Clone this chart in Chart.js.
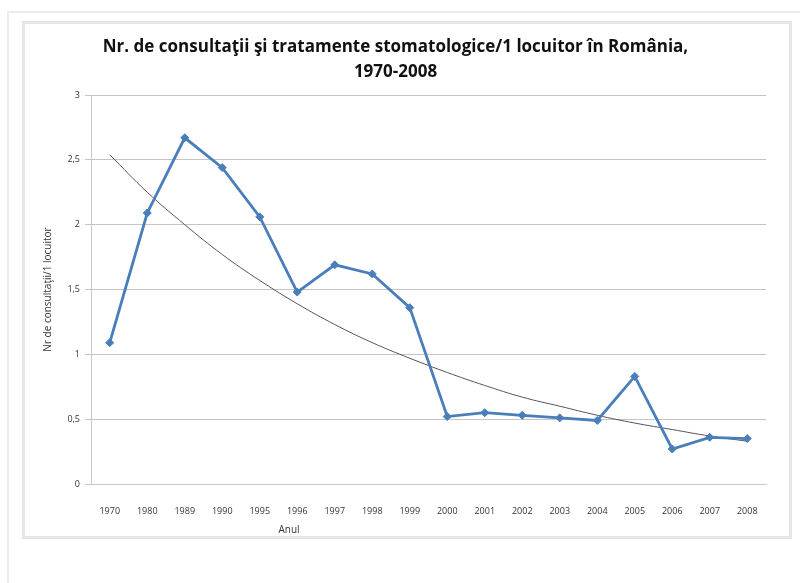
<!DOCTYPE html>
<html>
<head>
<meta charset="utf-8">
<script src="https://cdn.jsdelivr.net/npm/chart.js@4"></script>
<style>
  html, body { margin: 0; padding: 0; background: #fff; }
  body { width: 800px; height: 583px; position: relative; overflow: hidden; }
  .outer {
    position: absolute; left: 7px; top: 11px; width: 820px; height: 600px;
    border: 2px solid #ececec;
  }
  .box {
    position: absolute; left: 22px; top: 21px; width: 764px; height: 512px;
    border: 3px solid #e6e6e6; background: #fff;
  }
  #chart { position: absolute; left: 0; top: 0; }
</style>
</head>
<body>
<div class="outer"></div>
<div class="box"><canvas id="chart" width="764" height="512"></canvas></div>
<script>
const years = ['1970', '1980', '1989', '1990', '1995', '1996', '1997', '1998', '1999',
  '2000', '2001', '2002', '2003', '2004', '2005', '2006', '2007', '2008'];
const consultations = [1.09, 2.09, 2.67, 2.44, 2.06, 1.48, 1.69, 1.62, 1.36,
  0.52, 0.55, 0.53, 0.51, 0.49, 0.83, 0.27, 0.36, 0.35];
// trendline
const trend = [2.54, 2.25, 2.0, 1.77, 1.57, 1.39, 1.23, 1.09, 0.97,
  0.86, 0.76, 0.67, 0.6, 0.53, 0.47, 0.42, 0.37, 0.33];
const yTicks = [0, 0.5, 1, 1.5, 2, 2.5, 3];

const xTitle = {
  id: 'xTitle',
  afterDraw(chart) {
    const ctx = chart.ctx;
    const area = chart.chartArea;
    ctx.save();
    ctx.font = '10px "Open Sans"';
    ctx.fillStyle = '#333';
    ctx.textAlign = 'center';
    ctx.textBaseline = 'middle';
    ctx.fillText('Anul', area.left + 198, area.bottom + 46);
    ctx.restore();
  }
};

new Chart(document.getElementById('chart'), {
  type: 'line',
  data: {
    labels: years,
    datasets: [{
      data: consultations,
      borderColor: '#4a7ebb',
      backgroundColor: '#4a7ebb',
      borderWidth: 2.8,
      pointStyle: 'rectRot',
      pointRadius: 4,
      pointBorderWidth: 1,
      tension: 0
    }, {
      data: trend,
      borderColor: '#555',
      borderWidth: 1,
      pointRadius: 0,
      tension: 0.4
    }]
  },
  options: {
    responsive: false,
    animation: false,
    layout: { padding: { left: 0, right: 23, top: 0, bottom: 0 } },
    plugins: {
      legend: { display: false },
      tooltip: { enabled: false },
      title: {
        display: true,
        text: ['Nr. de consultaţii şi tratamente stomatologice/1 locuitor în România,', '1970-2008'],
        color: '#111',
        font: { family: '"Open Sans"', size: 17, weight: 'bold', lineHeight: 1.5 },
        padding: { top: 10, bottom: 10 }
      }
    },
    scales: {
      x: {
        offset: true,
        grid: { display: false },
        border: { color: '#c8c8c8' },
        ticks: { color: '#333', font: { family: '"Open Sans"', size: 9 }, padding: 14, autoSkip: false, maxRotation: 0 },
        afterFit(scale) { scale.height = 52; }
      },
      y: {
        min: 0,
        max: 3,
        afterBuildTicks(scale) { scale.ticks = yTicks.map(v => ({ value: v })); },
        grid: { color: '#c4c4c4', tickLength: 6 },
        border: { color: '#c8c8c8' },
        ticks: {
          color: '#333',
          font: { family: '"Open Sans"', size: 9 },
          padding: 5,
          callback: v => String(v).replace('.', ',')
        },
        title: {
          display: true,
          text: 'Nr de consultaţii/1 locuitor',
          color: '#333',
          font: { family: '"Open Sans"', size: 10 },
          padding: { top: 17, bottom: 0 }
        },
        afterFit(scale) { scale.width = 66; }
      }
    }
  },
  plugins: [xTitle]
});
</script>
</body>
</html>
